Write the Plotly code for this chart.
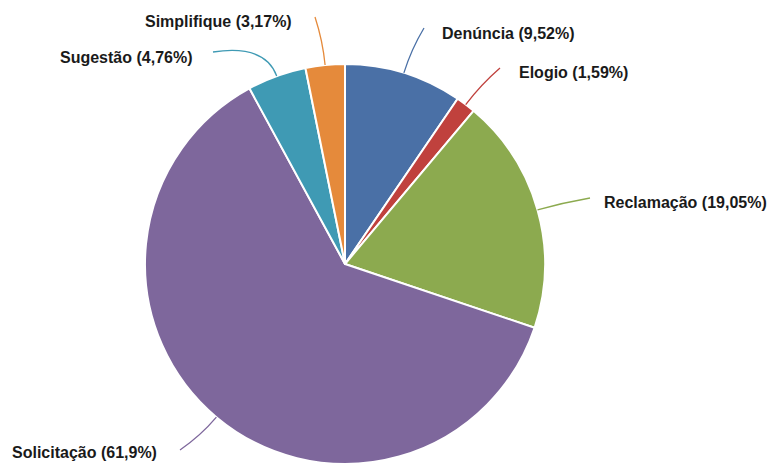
import math
import plotly.graph_objects as go

categories = ["Denúncia", "Elogio", "Reclamação", "Solicitação", "Sugestão", "Simplifique"]
percent_values = [9.52, 1.59, 19.05, 61.9, 4.76, 3.17]
percent_labels = ["9,52%", "1,59%", "19,05%", "61,9%", "4,76%", "3,17%"]
colors = ["#4A70A6", "#C0413D", "#8CAA4F", "#7E679C", "#3F9AB4", "#E58A3B"]

# layout: page body has an 8px margin, so the figure frame covers 8..778 x 8..466
OFF = 8
W, H = 778, 466
FW, FH = W - OFF, H - OFF
cx, cy, R = 345, 264, 200
# label anchor positions (reference pixels) and leader-line end points
label_pos = [(440, 33, "left"), (517, 72, "left"), (769, 202, "right"),
             (10, 452, "left"), (58, 57, "left"), (143, 21, "left")]
line_end = [(424, 28), (500, 68), (590, 198), (180, 450), (213, 52), (315, 17)]

fig = go.Figure()
fig.add_trace(go.Pie(
    labels=categories, values=percent_values, sort=False, direction="clockwise",
    rotation=0, textinfo="none", hoverinfo="label+percent",
    marker=dict(colors=colors, line=dict(color="white", width=2)),
    domain=dict(x=[(cx - R - OFF) / FW, (cx + R - OFF) / FW],
                y=[max(0, 1 - (cy + R - OFF) / FH), 1 - (cy - R - OFF) / FH]),
    showlegend=False,
))

total = sum(percent_values)
cum = 0.0
shapes = []
annotations = []
for i, v in enumerate(percent_values):
    mid = (cum + v / 2) / total * 2 * math.pi
    cum += v
    x0 = cx + R * math.sin(mid)
    y0 = cy - R * math.cos(mid)
    x1, y1 = line_end[i]
    d = math.hypot(x1 - x0, y1 - y0)
    kx = cx + (R + 0.5 * d) * math.sin(mid)
    ky = cy - (R + 0.5 * d) * math.cos(mid)
    shapes.append(dict(type="path", xref="x", yref="y",
                       path=f"M {x0:.1f},{y0:.1f} Q {kx:.1f},{ky:.1f} {x1:.1f},{y1:.1f}",
                       line=dict(color=colors[i], width=1.3)))
    lx, ly, anc = label_pos[i]
    annotations.append(dict(x=lx, y=ly, xref="x", yref="y", xanchor=anc, yanchor="middle",
                            text=f"<b>{categories[i]} ({percent_labels[i]})</b>",
                            showarrow=False,
                            font=dict(family="Liberation Sans, Arial, sans-serif", size=16, color="#1a1a1a")))

fig.update_layout(
    width=FW, height=FH, margin=dict(l=0, r=0, t=0, b=0),
    paper_bgcolor="white", plot_bgcolor="rgba(0,0,0,0)",
    xaxis=dict(range=[OFF, W], visible=False, fixedrange=True),
    yaxis=dict(range=[H, OFF], visible=False, fixedrange=True),
    shapes=shapes, annotations=annotations,
)
fig.write_html("out.html")
